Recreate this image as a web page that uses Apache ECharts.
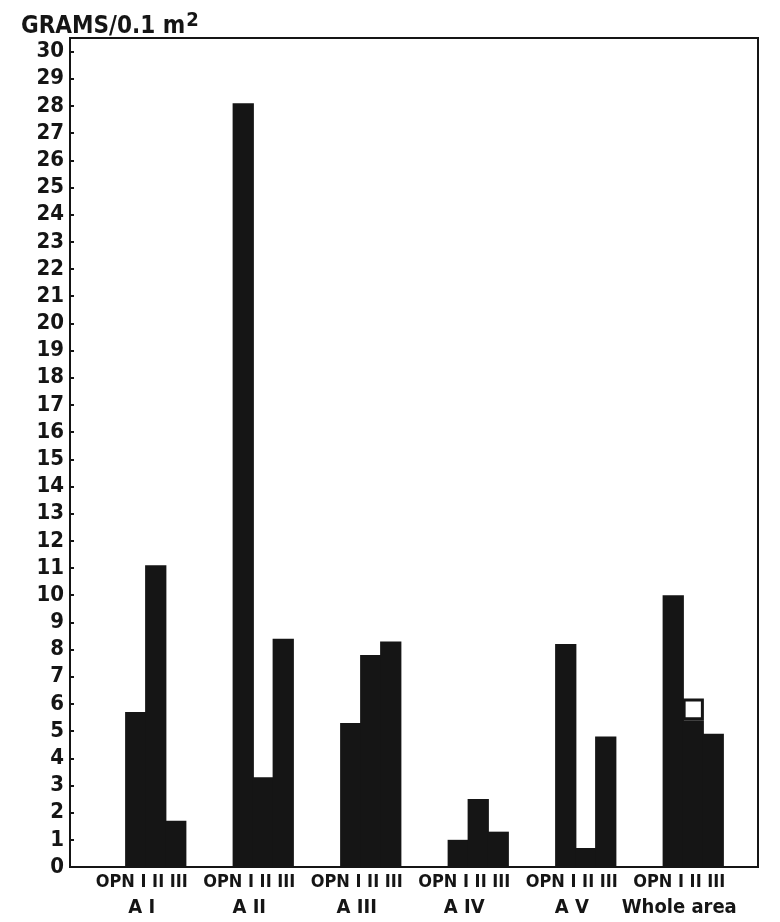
<!DOCTYPE html>
<html>
<head>
<meta charset="utf-8">
<script src="https://cdn.jsdelivr.net/npm/echarts@6/dist/echarts.min.js"></script>
<style>
  html, body { margin: 0; padding: 0; background: #fff; }
  #chart { width: 780px; height: 922px; }
</style>
</head>
<body>
<div id="chart"></div>
<script>
  // groups along the x axis
  const groups = ['A I', 'A II', 'A III', 'A IV', 'A V', 'Whole area']
  const subLabel = 'OPN I II III'
  // grams per 0.1 m2
  const opnValues = [5.7, 28.1, 5.3, 1.0, 8.2, 10.0]
  const iValues = [11.1, 3.3, 7.8, 2.5, 0.7, 5.4]
  const iOpenValues = [null, null, null, null, null, 0.8] // hollow top of the whole-area bar
  const iiValues = [1.7, 8.4, 8.3, 1.3, 4.8, 4.9]
  const yMin = 0
  const yMax = 30.5
  const yStep = 1

  const ink = '#151515'
  const labelFont = "'Liberation Sans Narrow', 'DejaVu Sans Condensed', 'Liberation Sans', sans-serif"

  let myChart = echarts.init(document.getElementById('chart'))
  myChart.setOption({
    backgroundColor: '#fff',
    animation: false,
    title: {
      text: '{a|GRAMS/0.1 m}{s|2}',
      left: 16,
      top: 6,
      textStyle: {
        rich: {
          a: { fontSize: 24, fontWeight: 'bold', color: ink, fontFamily: labelFont },
          s: { fontSize: 20, fontWeight: 'bold', color: ink, fontFamily: labelFont, padding: [0, 0, 12, 1] }
        }
      }
    },
    grid: [
      // frame and y axis
      { left: 70, right: 22, top: 38, bottom: 55, show: true, borderColor: ink, borderWidth: 2, backgroundColor: 'transparent' },
      // bars
      { left: 102, right: 33, top: 38, bottom: 55 }
    ],
    xAxis: [
      { gridIndex: 0, type: 'value', min: 0, max: 1, show: false },
      {
        gridIndex: 1,
        type: 'category',
        data: groups,
        axisLine: { show: false },
        axisTick: { show: false },
        axisLabel: {
          interval: 0,
          margin: 3,
          formatter: function(v) {
            return '{a|' + subLabel + '}\n{b|' + v + '}'
          },
          rich: {
            a: { fontSize: 18, fontWeight: 'bold', color: ink, fontFamily: labelFont, lineHeight: 25, padding: [0, 28, 0, 0] },
            b: { fontSize: 20, fontWeight: 'bold', color: ink, fontFamily: labelFont, lineHeight: 25, padding: [0, 28, 0, 0] }
          }
        }
      }
    ],
    yAxis: [
      {
        gridIndex: 0,
        type: 'value',
        min: yMin,
        max: yMax,
        interval: yStep,
        splitLine: { show: false },
        axisLine: { show: true, lineStyle: { color: ink, width: 2 } },
        axisTick: { show: true, inside: true, length: 4, lineStyle: { color: ink, width: 2 } },
        axisLabel: {
          margin: 6,
          color: ink,
          fontSize: 22,
          fontWeight: 'bold',
          fontFamily: labelFont,
          formatter: function(v) {
            return Number.isInteger(v) ? String(v) : ''
          }
        }
      },
      { gridIndex: 1, type: 'value', min: yMin, max: yMax, interval: yStep, show: false }
    ],
    series: [
      {
        // small negative gap overlaps neighbours so no seam shows
        name: 'OPN', type: 'bar', xAxisIndex: 1, yAxisIndex: 1,
        barGap: '-6%', barCategoryGap: '43%',
        itemStyle: { color: ink },
        data: opnValues
      },
      {
        name: 'I', type: 'bar', xAxisIndex: 1, yAxisIndex: 1, stack: 'i',
        itemStyle: { color: ink },
        data: iValues
      },
      {
        name: 'I open', type: 'bar', xAxisIndex: 1, yAxisIndex: 1, stack: 'i',
        itemStyle: { color: '#fff', borderColor: ink, borderWidth: 3 },
        data: iOpenValues
      },
      {
        name: 'II', type: 'bar', xAxisIndex: 1, yAxisIndex: 1,
        itemStyle: { color: ink },
        data: iiValues
      }
    ]
  })
</script>
</body>
</html>
